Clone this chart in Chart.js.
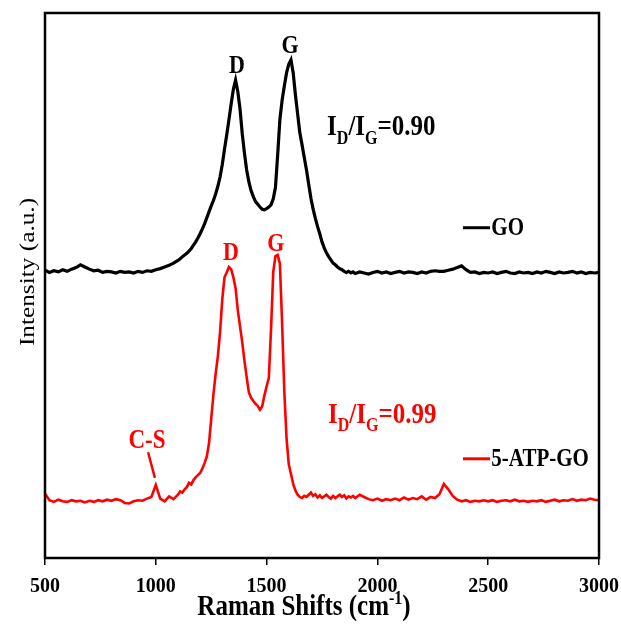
<!DOCTYPE html>
<html>
<head>
<meta charset="utf-8">
<script src="https://cdn.jsdelivr.net/npm/chart.js@4.4.1/dist/chart.umd.min.js"></script>
<style>
  html, body { margin: 0; padding: 0; background: #fff; }
  #wrap { width: 621px; height: 631px; position: relative; }
</style>
</head>
<body>
<div id="wrap"><canvas id="raman"></canvas></div>
<script>
// Raman shift grid (cm-1): coarse on the flat parts, 10 cm-1 through the D/G region
const ramanShift = [
    500, 520, 540, 560, 580, 600, 620, 640, 660, 680,
    700, 720, 740, 760, 780, 800, 820, 840, 860, 880,
    900, 920, 940, 960, 980, 1000, 1020, 1040, 1060, 1080,
    1100, 1110, 1120, 1130, 1140, 1150, 1160, 1170, 1180, 1190,
    1200, 1210, 1220, 1230, 1240, 1250, 1260, 1270, 1280, 1290,
    1300, 1310, 1320, 1330, 1340, 1350, 1360, 1370, 1380, 1390,
    1400, 1410, 1420, 1430, 1440, 1450, 1460, 1470, 1480, 1490,
    1500, 1510, 1520, 1530, 1540, 1550, 1560, 1570, 1580, 1590,
    1600, 1610, 1620, 1630, 1640, 1650, 1660, 1670, 1680, 1690,
    1700, 1710, 1720, 1730, 1740, 1750, 1760, 1770, 1780, 1790,
    1800, 1810, 1820, 1830, 1840, 1850, 1860, 1870, 1880, 1890,
    1900, 1920, 1940, 1960, 1980, 2000, 2020, 2040, 2060, 2080,
    2100, 2120, 2140, 2160, 2180, 2200, 2220, 2240, 2260, 2280,
    2300, 2320, 2340, 2360, 2380, 2400, 2420, 2440, 2460, 2480,
    2500, 2520, 2540, 2560, 2580, 2600, 2620, 2640, 2660, 2680,
    2700, 2720, 2740, 2760, 2780, 2800, 2820, 2840, 2860, 2880,
    2900, 2920, 2940, 2960, 2980, 3000
];

// GO spectrum, offset upwards (a.u.)
const goIntensity = [
    52.8, 52.4, 52.7, 52.5, 52.9, 52.6, 53.0, 53.3, 53.8, 53.4,
    53.0, 52.7, 52.8, 52.4, 52.6, 52.5, 52.3, 52.6, 52.4, 52.5,
    52.3, 52.6, 52.4, 52.7, 52.6, 52.9, 53.1, 53.4, 53.7, 54.1,
    54.6, 54.9, 55.3, 55.6, 55.9, 56.3, 56.8, 57.4, 58.0, 58.7,
    59.5, 60.4, 61.3, 62.4, 63.5, 64.6, 65.6, 66.8, 68.2, 69.9,
    72.2, 75.0, 77.6, 80.4, 83.3, 86.0, 87.7, 85.6, 82.4, 77.9,
    74.3, 71.2, 69.0, 67.4, 66.3, 65.4, 64.9, 64.4, 64.0, 63.9,
    64.1, 64.4, 64.8, 65.9, 68.0, 74.0, 80.5, 84.0, 86.6, 89.0,
    90.6, 91.4, 89.0, 85.0, 81.5, 78.0, 75.8, 73.5, 71.2, 68.6,
    66.0, 64.0, 62.3, 60.8, 59.5, 58.0, 56.9, 56.0, 55.3, 54.7,
    54.1, 53.8, 53.4, 53.1, 52.9, 52.6, 52.4, 52.6, 52.3, 52.5,
    52.2, 52.5, 52.3, 52.1, 52.4, 52.6, 52.3, 52.5, 52.2, 52.4,
    52.6, 52.3, 52.5, 52.4, 52.2, 52.5, 52.3, 52.6, 52.7, 52.6,
    52.6, 52.8, 53.0, 53.3, 53.6, 52.9, 52.4, 52.5, 52.2, 52.4,
    52.3, 52.5, 52.2, 52.4, 52.6, 52.3, 52.2, 52.5, 52.3, 52.4,
    52.2, 52.5, 52.3, 52.6, 52.4, 52.2, 52.5, 52.3, 52.4, 52.6,
    52.3, 52.5, 52.2, 52.4, 52.3, 52.4
];

// 5-ATP-GO spectrum (a.u.)
const atpGoIntensity = [
    11.8, 10.6, 10.3, 10.7, 10.4, 10.3, 10.6, 10.4, 10.5, 10.2,
    10.5, 10.3, 10.6, 10.4, 10.7, 10.5, 10.8, 10.6, 10.1, 10.0,
    10.4, 10.6, 10.5, 10.9, 11.2, 13.4, 10.9, 10.4, 11.3, 10.8,
    11.6, 12.2, 12.0, 12.6, 13.0, 13.8, 13.5, 14.3, 14.8, 15.2,
    15.6, 16.4, 17.4, 18.6, 21.0, 25.5, 30.0, 33.8, 37.0, 41.5,
    47.5, 51.5, 52.4, 53.4, 53.0, 51.5, 49.5, 45.5, 42.5, 39.6,
    36.2, 33.2, 30.4, 29.4, 28.8, 28.3, 27.9, 27.2, 27.8, 29.8,
    31.5, 33.0, 42.0, 52.5, 55.4, 55.6, 54.0, 43.0, 30.5, 22.0,
    17.2, 15.4, 13.6, 12.4, 11.6, 11.2, 11.0, 11.4, 11.2, 11.6,
    12.0, 11.4, 11.7, 11.1, 11.5, 11.0, 11.3, 11.6, 11.2, 10.9,
    11.4, 11.0, 11.3, 11.6, 11.2, 11.5, 10.9, 11.3, 11.1, 11.4,
    11.0, 11.6, 11.2, 10.8, 10.6, 10.9, 10.5, 10.8, 10.6, 10.9,
    10.6, 11.1, 10.7, 11.0, 10.8, 11.3, 10.7, 11.2, 11.0, 11.7,
    13.6, 12.6, 11.4, 10.7, 10.4, 10.6, 10.3, 10.5, 10.4, 10.6,
    10.4, 10.6, 10.3, 10.5, 10.6, 10.4, 10.7, 10.4, 10.5, 10.3,
    10.5, 10.4, 10.6, 10.3, 10.5, 10.7, 10.4, 10.6, 10.5, 10.8,
    10.5, 10.7, 10.6, 10.9, 10.7, 10.6
];

const seriesNames = ['GO', '5-ATP-GO'];
const seriesColors = ['#000000', '#ff0000'];
const idIgRatios = ['0.90', '0.99'];
const xTickStep = 500;

const FONT = '"Liberation Serif", "Times New Roman", serif';
const STRETCH = 1.15; // text in this figure is a bit taller than wide

// draws text made of [string, 'sub'|'sup'|null] pieces; (x, y) is the baseline
function drawRich(ctx, parts, x, y, size, color, align = 'left', weight = 'bold') {
    const small = Math.round(size * 0.62);
    const fontFor = kind => `${weight} ${kind ? small : size}px ${FONT}`;
    let total = 0;
    for (const [text, kind] of parts) {
        ctx.font = fontFor(kind);
        total += ctx.measureText(text).width;
    }
    ctx.save();
    ctx.translate(x, y);
    ctx.scale(1, STRETCH);
    ctx.fillStyle = color;
    ctx.textAlign = 'left';
    ctx.textBaseline = 'alphabetic';
    let cx = align === 'center' ? -total / 2 : 0;
    for (const [text, kind] of parts) {
        ctx.font = fontFor(kind);
        const dy = kind === 'sub' ? size * 0.3 : kind === 'sup' ? -size * 0.38 : 0;
        ctx.fillText(text, cx, dy);
        cx += ctx.measureText(text).width;
    }
    ctx.restore();
}

const figureDecor = {
    id: 'figureDecor',
    afterDraw(chart) {
        const { ctx, chartArea: a, scales } = chart;
        const px = v => scales.x.getPixelForValue(v);
        const py = v => scales.y.getPixelForValue(v);

        // closed frame round the plot
        ctx.save();
        ctx.strokeStyle = '#000';
        ctx.lineWidth = 2.5;
        ctx.strokeRect(a.left, a.top, a.right - a.left, a.bottom - a.top);
        ctx.restore();

        // axis titles
        ctx.save();
        ctx.translate(28, 272);
        ctx.scale(1, STRETCH);
        ctx.rotate(-Math.PI / 2);
        ctx.font = `22px ${FONT}`;
        ctx.fillStyle = '#000';
        ctx.textAlign = 'center';
        ctx.textBaseline = 'middle';
        ctx.fillText('Intensity (a.u.)', 0, 0);
        ctx.restore();
        drawRich(ctx, [['Raman Shifts (cm', null], ['-1', 'sup'], [')', null]], 304, 615, 25, '#000', 'center');

        // peak labels
        drawRich(ctx, [['D', null]], px(1366), py(89.0), 22, seriesColors[0], 'center');
        drawRich(ctx, [['G', null]], px(1606), py(92.7), 22, seriesColors[0], 'center');
        drawRich(ctx, [['D', null]], px(1339), py(54.7), 22, seriesColors[1], 'center');
        drawRich(ctx, [['G', null]], px(1542), py(56.3), 22, seriesColors[1], 'center');

        // intensity ratios
        const ratioParts = r => [['I', null], ['D', 'sub'], ['/I', null], ['G', 'sub'], ['=' + r, null]];
        drawRich(ctx, ratioParts(idIgRatios[0]), px(1773), py(77.6), 25, seriesColors[0]);
        drawRich(ctx, ratioParts(idIgRatios[1]), px(1777), py(24.8), 25, seriesColors[1]);

        // C-S band marker
        drawRich(ctx, [['C-S', null]], px(960), py(20.2), 23, seriesColors[1], 'center');
        ctx.save();
        ctx.strokeStyle = seriesColors[1];
        ctx.lineWidth = 2.5;
        ctx.beginPath();
        ctx.moveTo(px(965), py(19.4));
        ctx.lineTo(px(996), py(14.7));
        ctx.stroke();
        ctx.restore();

        // legend entries inside the plot
        const legendRows = [60.6, 18.2];
        chart.data.datasets.forEach((ds, i) => {
            const y = py(legendRows[i]);
            ctx.save();
            ctx.strokeStyle = ds.borderColor;
            ctx.lineWidth = 3;
            ctx.beginPath();
            ctx.moveTo(px(2386), y);
            ctx.lineTo(px(2508), y);
            ctx.stroke();
            ctx.restore();
            drawRich(ctx, [[ds.label, null]], px(2514), y + 7, 21, '#000');
        });
    }
};

const toPoints = values => ramanShift.map((x, i) => ({ x, y: values[i] }));

new Chart(document.getElementById('raman'), {
    type: 'line',
    data: {
        datasets: [
            {
                label: seriesNames[0],
                data: toPoints(goIntensity),
                borderColor: seriesColors[0],
                borderWidth: 3.2,
                pointRadius: 0,
                tension: 0,
            },
            {
                label: seriesNames[1],
                data: toPoints(atpGoIntensity),
                borderColor: seriesColors[1],
                borderWidth: 2.6,
                pointRadius: 0,
                tension: 0,
            },
        ],
    },
    options: {
        responsive: true,
        maintainAspectRatio: false,
        animation: false,
        layout: { padding: { left: 45, right: 22, top: 13, bottom: 0 } },
        plugins: {
            legend: { display: false },
            tooltip: { enabled: false },
        },
        scales: {
            x: {
                type: 'linear',
                min: 500,
                max: 3000,
                afterFit(scale) {
                    // end labels may spill into the page margin
                    scale.height = 73;
                    scale.paddingLeft = 0;
                    scale.paddingRight = 0;
                },
                border: { display: false },
                grid: {
                    drawOnChartArea: false,
                    drawTicks: true,
                    tickLength: 7,
                    color: '#000',
                    lineWidth: 1.5,
                },
                ticks: {
                    stepSize: xTickStep,
                    padding: 10,
                    maxRotation: 0,
                    color: '#000',
                    font: { family: FONT, size: 20, weight: 'bold' },
                    callback: v => String(v),
                },
            },
            y: {
                display: false,
                min: 0,
                max: 100,
            },
        },
    },
    plugins: [figureDecor],
});
</script>
</body>
</html>
